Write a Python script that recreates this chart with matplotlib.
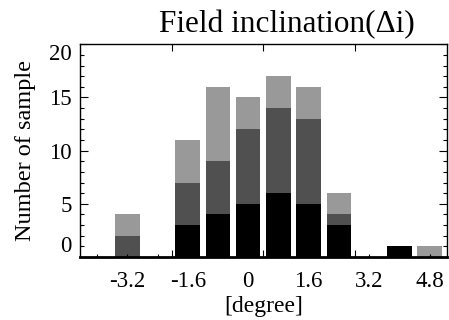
import numpy as np
import matplotlib
matplotlib.use("Agg")
import matplotlib.pyplot as plt
from matplotlib.ticker import MultipleLocator, FixedLocator

# ---- data ----
bin_centers = [-4.0, -3.2, -2.4, -1.6, -0.8, 0.0, 0.8, 1.6, 2.4, 3.2, 4.0, 4.8]
black_counts = [0, 0, 0, 3, 4, 5, 6, 5, 3, 0, 1, 0]
dark_counts  = [0, 2, 0, 4, 5, 7, 8, 8, 1, 0, 0, 0]
light_counts = [0, 2, 0, 4, 7, 3, 3, 3, 2, 0, 0, 1]
xtick_labels = ["", "-3.2", "", "-1.6", "", "0", "", "1.6", "", "3.2", "", "4.8"]
yticks = [0, 5, 10, 15, 20]
title = "Field inclination(\u0394i)"
xlabel = "[degree]"
ylabel = "Number of sample"

serif = ["Liberation Serif", "DejaVu Serif"]
plt.rcParams["font.family"] = serif

fig = plt.figure(figsize=(4.49, 3.20), dpi=100)
ax = fig.add_axes([80/449, 1-257/320, (446.7-80)/449, (257-44.3)/320])

x = np.array(bin_centers)
b = np.array(black_counts)
d = np.array(dark_counts)
l = np.array(light_counts)
w = 0.65
ax.bar(x, b, width=w, color="#000000", linewidth=0, zorder=1)
ax.bar(x, d, width=w, bottom=b, color="#505050", linewidth=0, zorder=1)
ax.bar(x, l, width=w, bottom=b + d, color="#999999", linewidth=0, zorder=1)

xmin, xmax = -4.452, 5.254
ax.set_xlim(xmin, xmax)
ax.set_ylim(0, 20)

# major x ticks divide the axis in quarters (no labels)
q = (xmax - xmin) / 4
ax.xaxis.set_major_locator(FixedLocator([xmin + q, xmin + 2*q, xmin + 3*q]))
ax.set_xticklabels([])
ax.set_xticks(bin_centers, minor=True)
ax.set_xticklabels(xtick_labels, minor=True)

ax.set_yticks(yticks)
ax.yaxis.set_minor_locator(MultipleLocator(1))

ax.tick_params(axis="both", which="both", direction="in", width=0.8)
ax.tick_params(axis="x", which="major", length=5, top=True, bottom=True, labelbottom=False)
ax.tick_params(axis="x", which="minor", length=2.5, top=False, bottom=True, labelsize=16.5, pad=10)
ax.tick_params(axis="y", which="major", length=6, left=True, right=True, labelsize=16.5, pad=6)
ax.tick_params(axis="y", which="minor", length=3, left=True, right=True)

for lab in ax.get_yticklabels():
    t = lab.get_text()
    if t == "0":
        lab.set_va("bottom")
    elif t == "20":
        lab.set_va("top")

for sp in ax.spines.values():
    sp.set_linewidth(1.0)
ax.spines["bottom"].set_linewidth(2.0)

ax.set_xlabel(xlabel, fontsize=17, labelpad=3)
ax.set_ylabel(ylabel, fontsize=17.5, labelpad=9)
fig.text(287/449, 1-32/320, title, fontsize=22.5, ha="center", va="baseline")

fig.savefig("out.png", dpi=100)
